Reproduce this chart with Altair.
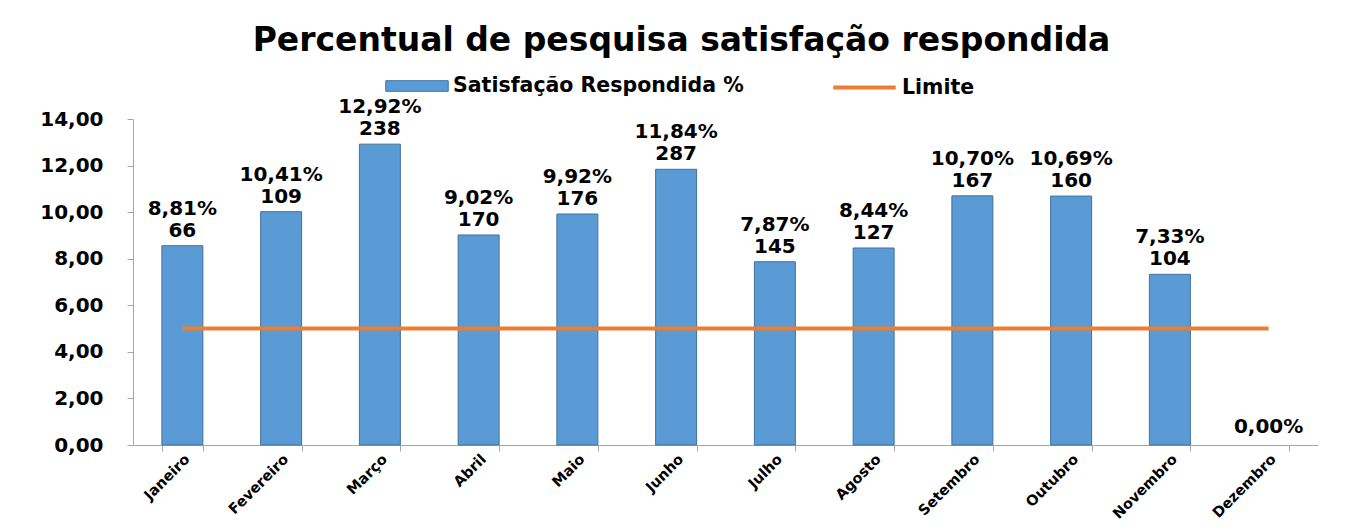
import altair as alt
import pandas as pd

meses = ["Janeiro", "Fevereiro", "Março", "Abril", "Maio", "Junho", "Julho",
         "Agosto", "Setembro", "Outubro", "Novembro", "Dezembro"]
barras = [8.56, 10.02, 12.92, 9.02, 9.92, 11.84, 7.87, 8.46, 10.70, 10.69, 7.33, 0.00]
percentuais = ["8,81%", "10,41%", "12,92%", "9,02%", "9,92%", "11,84%", "7,87%",
               "8,44%", "10,70%", "10,69%", "7,33%", "0,00%"]
respostas = ["66", "109", "238", "170", "176", "287", "145", "127", "167", "160", "104", ""]
limite = [5.00, 5.00, 5.00, 5.00, 5.00, 5.00, 5.00, 5.00, 5.00, 5.00, 5.00, 5.00]
y_ticks = [0, 2, 4, 6, 8, 10, 12, 14]

SERIE_BAR = "Satisfação Respondida %"
SERIE_LINE = "Limite"
FONT = "DejaVu Sans"
BLUE = "#5B9BD5"
ORANGE = "#ED7D31"
GRAY = "#A6A6A6"

df = pd.DataFrame({
    "mes": meses,
    "valor": barras,
    "pct": percentuais,
    "resp": respostas,
    "limite": limite,
    "serie": [SERIE_BAR] * len(meses),
    "serie2": [SERIE_LINE] * len(meses),
})

x_enc = alt.X(
    "mes:N", sort=meses, title=None,
    scale=alt.Scale(paddingInner=0.585, paddingOuter=0.2925),
    axis=alt.Axis(labelAngle=-45, labelFont=FONT, labelFontWeight="bold", labelFontSize=14.5,
                  labelColor="black", domainColor=GRAY, tickColor=GRAY, tickSize=6,
                  tickBand="extent", labelPadding=1),
)
y_scale = alt.Scale(domain=[0, 14], nice=False)
x_plain = alt.X("mes:N", sort=meses)

legend_common = dict(orient="none", legendY=-65, title=None, labelFont=FONT,
                     labelFontWeight="bold", labelFontSize=20.5, labelColor="black",
                     padding=0, labelLimit=600)

bars = alt.Chart(df).transform_filter("datum.valor > 0").mark_bar(
    stroke="#41719C", strokeWidth=1
).encode(
    x=x_enc,
    y=alt.Y("valor:Q", scale=y_scale, title=None,
            axis=alt.Axis(values=y_ticks, labelExpr="replace(format(datum.value, '.2f'), '.', ',')",
                          labelFont=FONT, labelFontWeight="bold", labelFontSize=20,
                          labelColor="black", domainColor=GRAY, tickColor=GRAY, tickSize=6,
                          labelPadding=24, grid=False)),
    fill=alt.Fill("serie:N", scale=alt.Scale(domain=[SERIE_BAR], range=[BLUE]),
                  legend=alt.Legend(legendX=252, symbolType="M-1,-0.17H1V0.17H-1Z",
                                    symbolSize=3900, symbolStrokeColor="#41719C",
                                    symbolStrokeWidth=1, **legend_common)),
)

text_style = dict(baseline="bottom", font=FONT, fontWeight="bold", fontSize=20, color="black")

counts = alt.Chart(df).transform_filter("datum.resp != ''").mark_text(dy=-5, **text_style).encode(
    x=x_plain, y=alt.Y("valor:Q", scale=y_scale), text="resp:N")
pct_two = alt.Chart(df).transform_filter("datum.resp != ''").mark_text(dy=-27, **text_style).encode(
    x=x_plain, y=alt.Y("valor:Q", scale=y_scale), text="pct:N")
pct_one = alt.Chart(df).transform_filter("datum.resp == ''").mark_text(dy=-8, **text_style).encode(
    x=x_plain, y=alt.Y("valor:Q", scale=y_scale), text="pct:N")

line = alt.Chart(df).mark_line(strokeWidth=4).encode(
    x=x_plain,
    y=alt.Y("limite:Q", scale=y_scale),
    stroke=alt.Stroke("serie2:N", scale=alt.Scale(domain=[SERIE_LINE], range=[ORANGE]),
                      legend=alt.Legend(legendX=698, symbolType="stroke", symbolSize=3900,
                                        symbolStrokeWidth=4, **legend_common)),
)

chart = alt.layer(bars, line, counts, pct_two, pct_one).resolve_scale(
    fill="independent", stroke="independent"
).properties(
    width=1185, height=326,
    title=alt.Title("Percentual de pesquisa satisfação respondida", font=FONT, fontSize=33,
                    fontWeight="bold", color="black", anchor="middle", dx=-44, offset=-30,
                    baseline="alphabetic", frame="group"),
    autosize=alt.AutoSizeParams(type="none"),
    padding={"left": 125, "top": 111, "right": 30, "bottom": 78},
).configure(background="white").configure_view(stroke=None)

chart.save("out.html", embed_options={"renderer": "svg", "actions": False})
